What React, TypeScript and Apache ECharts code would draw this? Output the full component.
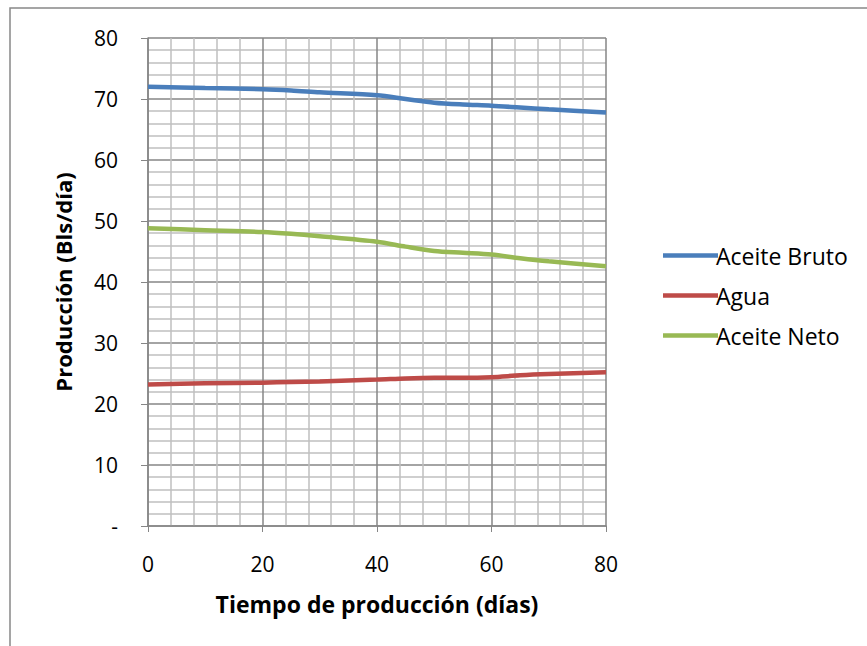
import React, { useEffect, useRef } from "react";
import * as echarts from "echarts";

const dias = [0, 10, 20, 25, 30, 40, 45, 50, 55, 60, 65, 70, 80];
const aceiteBruto = [72.0, 71.8, 71.6, 71.4, 71.1, 70.6, 70.0, 69.4, 69.1, 68.9, 68.6, 68.3, 67.8];
const agua = [23.2, 23.4, 23.5, 23.6, 23.7, 24.0, 24.2, 24.3, 24.3, 24.4, 24.7, 24.9, 25.2];
const aceiteNeto = [48.8, 48.5, 48.2, 47.9, 47.5, 46.6, 45.8, 45.1, 44.8, 44.5, 43.9, 43.4, 42.6];

const seriesNames = ["Aceite Bruto", "Agua", "Aceite Neto"];
const seriesColors = ["#4A7EBB", "#BE4B48", "#98B954"];

const FONT = "'Open Sans', sans-serif";

export default function App() {
  const ref = useRef<HTMLDivElement>(null);
  useEffect(() => {
    if (!ref.current) return;
    const chart = echarts.init(ref.current, null, { renderer: "svg" });
    const values = [aceiteBruto, agua, aceiteNeto];
    chart.setOption({
      animation: false,
      backgroundColor: "#ffffff",
      textStyle: { fontFamily: FONT },
      graphic: [
        {
          type: "rect",
          shape: { x: 10, y: 8, width: 900, height: 700 },
          style: { fill: "none", stroke: "#888888", lineWidth: 1.5 },
          silent: true,
        },
      ],
      grid: { left: 148, top: 38, width: 458, height: 488, containLabel: false },
      legend: {
        orient: "vertical",
        left: 658,
        top: 239,
        itemWidth: 55,
        itemHeight: 14,
        itemGap: 17,
        icon: "path://M0,0 L55,0 L55,4.5 L0,4.5 Z",
        textStyle: { fontSize: 23, color: "#000", fontFamily: FONT, padding: [0, 0, 0, -7] },
        data: seriesNames,
      },
      xAxis: {
        type: "value",
        min: 0,
        max: 80,
        interval: 20,
        name: "Tiempo de producción (días)",
        nameLocation: "middle",
        nameGap: 66,
        nameTextStyle: { fontSize: 23, fontWeight: "bold", color: "#000", fontFamily: FONT },
        axisLine: { show: true, lineStyle: { color: "#868686", width: 1.5 } },
        axisTick: { show: true, length: 6, inside: false, lineStyle: { color: "#868686" } },
        axisLabel: { fontSize: 21, color: "#000", margin: 27, fontFamily: FONT },
        splitLine: { show: true, lineStyle: { color: "#868686", width: 1.5 } },
        minorTick: { show: false, splitNumber: 5 },
        minorSplitLine: { show: true, lineStyle: { color: "#BFBFBF", width: 1.5 } },
      },
      yAxis: {
        type: "value",
        min: 0,
        max: 80,
        interval: 10,
        name: "Producción (Bls/día)",
        nameLocation: "middle",
        nameGap: 74,
        nameTextStyle: { fontSize: 22, fontWeight: "bold", color: "#000", fontFamily: FONT },
        axisLine: { show: true, lineStyle: { color: "#868686", width: 1.5 } },
        axisTick: { show: true, length: 7, inside: false, lineStyle: { color: "#868686" } },
        axisLabel: {
          fontSize: 21,
          color: "#000",
          margin: 30,
          fontFamily: FONT,
          formatter: (v: number) => (v === 0 ? "-" : String(v)),
        },
        splitLine: { show: true, lineStyle: { color: "#868686", width: 1.5 } },
        minorTick: { show: false, splitNumber: 5 },
        minorSplitLine: { show: true, lineStyle: { color: "#BFBFBF", width: 1.5 } },
      },
      series: seriesNames.map((name, i) => ({
        name,
        type: "line",
        smooth: 0.3,
        symbol: "none",
        data: dias.map((d, j) => [d, values[i][j]]),
        lineStyle: { color: seriesColors[i], width: 4.5 },
        itemStyle: { color: seriesColors[i] },
      })),
    });
    return () => chart.dispose();
  }, []);
  return (
    <div
      ref={ref}
      style={{ position: "absolute", left: 0, top: 0, width: 867, height: 646 }}
    />
  );
}
